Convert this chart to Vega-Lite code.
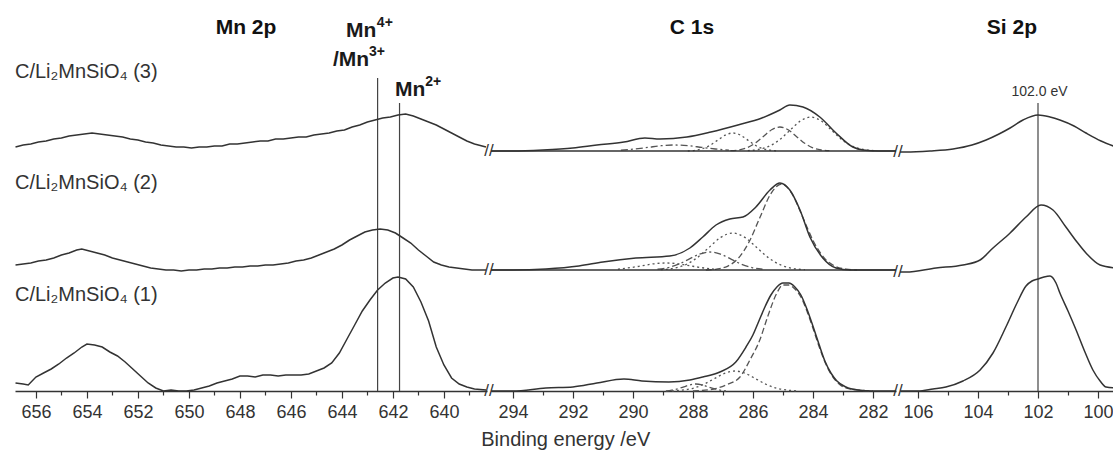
{
  "$schema": "https://vega.github.io/schema/vega-lite/v6.json",
  "padding": {"left": 12, "top": 0, "right": 0, "bottom": 0},
  "bounds": "flush",
  "spacing": 4,
  "title": {"text": "Binding energy /eV", "orient": "bottom", "anchor": "middle", "fontSize": 20, "fontWeight": "normal", "color": "#333", "font": "Liberation Sans", "offset": 9},
  "config": {
    "view": {"stroke": null},
    "font": "Liberation Sans",
    "axis": {"domainColor": "#333", "domainWidth": 1.5, "tickColor": "#333", "tickWidth": 1.2, "labelColor": "#333", "labelFontSize": 18, "labelFont": "Liberation Sans", "labelPadding": 5, "labelOverlap": false, "labelFlush": false, "grid": false, "title": null}
  },
  "datasets": {
    "mn": [
      {"s":3,"E":656.8,"I":244},{"s":3,"E":656.5,"I":246},{"s":3,"E":656.2,"I":247},{"s":3,"E":655.9,"I":249},{"s":3,"E":655.6,"I":250},{"s":3,"E":655.3,"I":252},{"s":3,"E":655.0,"I":253},{"s":3,"E":654.7,"I":255},{"s":3,"E":654.4,"I":256},{"s":3,"E":654.1,"I":257},{"s":3,"E":653.8,"I":258},{"s":3,"E":653.5,"I":257},{"s":3,"E":653.2,"I":256},{"s":3,"E":652.9,"I":255},{"s":3,"E":652.6,"I":254},{"s":3,"E":652.3,"I":252},{"s":3,"E":652.0,"I":251},{"s":3,"E":651.7,"I":249},{"s":3,"E":651.4,"I":248},{"s":3,"E":651.1,"I":246},{"s":3,"E":650.8,"I":245},{"s":3,"E":650.5,"I":244},{"s":3,"E":650.2,"I":244},{"s":3,"E":649.9,"I":243},{"s":3,"E":649.6,"I":244},{"s":3,"E":649.3,"I":244},{"s":3,"E":649.0,"I":245},{"s":3,"E":648.7,"I":245},{"s":3,"E":648.4,"I":247},{"s":3,"E":648.1,"I":247},{"s":3,"E":647.8,"I":248},{"s":3,"E":647.5,"I":249},{"s":3,"E":647.2,"I":250},{"s":3,"E":646.9,"I":250},{"s":3,"E":646.6,"I":252},{"s":3,"E":646.3,"I":252},{"s":3,"E":646.0,"I":253},{"s":3,"E":645.7,"I":254},{"s":3,"E":645.4,"I":254},{"s":3,"E":645.1,"I":256},{"s":3,"E":644.8,"I":257},{"s":3,"E":644.5,"I":258},{"s":3,"E":644.2,"I":260},{"s":3,"E":643.9,"I":261},{"s":3,"E":643.6,"I":264},{"s":3,"E":643.3,"I":266},{"s":3,"E":643.0,"I":269},{"s":3,"E":642.7,"I":271},{"s":3,"E":642.4,"I":273},{"s":3,"E":642.1,"I":274},{"s":3,"E":641.8,"I":276},{"s":3,"E":641.5,"I":277},{"s":3,"E":641.2,"I":275},{"s":3,"E":640.9,"I":272},{"s":3,"E":640.6,"I":269},{"s":3,"E":640.3,"I":266},{"s":3,"E":640.0,"I":262},{"s":3,"E":639.7,"I":258},{"s":3,"E":639.4,"I":254},{"s":3,"E":639.1,"I":250},{"s":3,"E":638.8,"I":247},{"s":3,"E":638.5,"I":245},{"s":3,"E":638.35,"I":244},
      {"s":2,"E":656.8,"I":126},{"s":2,"E":656.5,"I":127},{"s":2,"E":656.2,"I":128},{"s":2,"E":655.9,"I":130},{"s":2,"E":655.6,"I":131},{"s":2,"E":655.3,"I":133},{"s":2,"E":655.0,"I":136},{"s":2,"E":654.7,"I":138},{"s":2,"E":654.4,"I":141},{"s":2,"E":654.2,"I":142},{"s":2,"E":653.9,"I":140},{"s":2,"E":653.6,"I":138},{"s":2,"E":653.3,"I":136},{"s":2,"E":653.0,"I":133},{"s":2,"E":652.7,"I":131},{"s":2,"E":652.4,"I":129},{"s":2,"E":652.1,"I":127},{"s":2,"E":651.8,"I":125},{"s":2,"E":651.5,"I":123},{"s":2,"E":651.2,"I":122},{"s":2,"E":650.9,"I":121},{"s":2,"E":650.6,"I":121},{"s":2,"E":650.3,"I":120},{"s":2,"E":650.0,"I":121},{"s":2,"E":649.7,"I":121},{"s":2,"E":649.4,"I":122},{"s":2,"E":649.1,"I":122},{"s":2,"E":648.8,"I":123},{"s":2,"E":648.5,"I":123},{"s":2,"E":648.2,"I":124},{"s":2,"E":647.9,"I":124},{"s":2,"E":647.6,"I":125},{"s":2,"E":647.3,"I":125},{"s":2,"E":647.0,"I":126},{"s":2,"E":646.7,"I":126},{"s":2,"E":646.4,"I":127},{"s":2,"E":646.1,"I":128},{"s":2,"E":645.8,"I":130},{"s":2,"E":645.5,"I":131},{"s":2,"E":645.2,"I":133},{"s":2,"E":644.9,"I":136},{"s":2,"E":644.6,"I":139},{"s":2,"E":644.3,"I":142},{"s":2,"E":644.0,"I":146},{"s":2,"E":643.7,"I":151},{"s":2,"E":643.4,"I":155},{"s":2,"E":643.1,"I":159},{"s":2,"E":642.8,"I":161},{"s":2,"E":642.5,"I":162},{"s":2,"E":642.2,"I":161},{"s":2,"E":641.9,"I":158},{"s":2,"E":641.6,"I":153},{"s":2,"E":641.3,"I":148},{"s":2,"E":641.0,"I":141},{"s":2,"E":640.7,"I":135},{"s":2,"E":640.4,"I":129},{"s":2,"E":640.1,"I":126},{"s":2,"E":639.8,"I":124},{"s":2,"E":639.5,"I":123},{"s":2,"E":639.2,"I":122},{"s":2,"E":638.9,"I":121},{"s":2,"E":638.6,"I":121},{"s":2,"E":638.35,"I":121},
      {"s":1,"E":656.8,"I":8},{"s":1,"E":656.5,"I":7},{"s":1,"E":656.3,"I":6},{"s":1,"E":656.0,"I":14},{"s":1,"E":655.7,"I":18},{"s":1,"E":655.4,"I":22},{"s":1,"E":655.1,"I":27},{"s":1,"E":654.8,"I":33},{"s":1,"E":654.5,"I":38},{"s":1,"E":654.2,"I":44},{"s":1,"E":654.0,"I":47},{"s":1,"E":653.7,"I":46},{"s":1,"E":653.4,"I":44},{"s":1,"E":653.1,"I":39},{"s":1,"E":652.8,"I":35},{"s":1,"E":652.5,"I":29},{"s":1,"E":652.2,"I":22},{"s":1,"E":651.9,"I":15},{"s":1,"E":651.6,"I":8},{"s":1,"E":651.3,"I":3},{"s":1,"E":651.0,"I":0},{"s":1,"E":650.7,"I":1},{"s":1,"E":650.4,"I":0},{"s":1,"E":650.1,"I":0},{"s":1,"E":649.8,"I":1},{"s":1,"E":649.5,"I":3},{"s":1,"E":649.2,"I":5},{"s":1,"E":648.9,"I":8},{"s":1,"E":648.6,"I":10},{"s":1,"E":648.3,"I":12},{"s":1,"E":648.0,"I":15},{"s":1,"E":647.7,"I":15},{"s":1,"E":647.4,"I":14},{"s":1,"E":647.1,"I":16},{"s":1,"E":646.8,"I":16},{"s":1,"E":646.5,"I":15},{"s":1,"E":646.2,"I":16},{"s":1,"E":645.9,"I":16},{"s":1,"E":645.6,"I":16},{"s":1,"E":645.3,"I":17},{"s":1,"E":645.0,"I":20},{"s":1,"E":644.7,"I":23},{"s":1,"E":644.4,"I":28},{"s":1,"E":644.1,"I":38},{"s":1,"E":643.8,"I":52},{"s":1,"E":643.5,"I":66},{"s":1,"E":643.2,"I":80},{"s":1,"E":642.9,"I":91},{"s":1,"E":642.6,"I":101},{"s":1,"E":642.3,"I":108},{"s":1,"E":642.0,"I":113},{"s":1,"E":641.8,"I":114},{"s":1,"E":641.5,"I":112},{"s":1,"E":641.2,"I":104},{"s":1,"E":640.9,"I":89},{"s":1,"E":640.6,"I":70},{"s":1,"E":640.3,"I":44},{"s":1,"E":640.0,"I":26},{"s":1,"E":639.7,"I":13},{"s":1,"E":639.4,"I":7},{"s":1,"E":639.1,"I":4},{"s":1,"E":638.8,"I":2},{"s":1,"E":638.35,"I":1}
    ],
    "mnrules": [
      {"E":642.6,"I":0,"I2":313},{"E":641.74,"I":0,"I2":288}
    ],
    "mntext": [
      {"k":"sample","E":656.82,"I":319,"t":"C/Li₂MnSiO₄ (3)"},
      {"k":"sample","E":656.82,"I":208,"t":"C/Li₂MnSiO₄ (2)"},
      {"k":"sample","E":656.82,"I":96,"t":"C/Li₂MnSiO₄ (1)"},
      {"k":"title","E":647.76,"I":363,"t":"Mn 2p"},
      {"k":"ion","E":643.84,"I":360,"t":"Mn"},
      {"k":"sup","E":642.63,"I":368,"t":"4+"},
      {"k":"ion","E":644.35,"I":331,"t":"/Mn"},
      {"k":"sup","E":642.94,"I":339,"t":"3+"},
      {"k":"ion","E":641.92,"I":301,"t":"Mn"},
      {"k":"sup","E":640.73,"I":309,"t":"2+"}
    ],
    "c": [
      {"id":"m3","E":294.73,"I":240},{"id":"m3","E":294.0,"I":240},{"id":"m3","E":293.0,"I":241},{"id":"m3","E":292.0,"I":243},{"id":"m3","E":291.2,"I":246},{"id":"m3","E":290.3,"I":249},{"id":"m3","E":289.6,"I":253},{"id":"m3","E":289.1,"I":252},{"id":"m3","E":288.2,"I":254},{"id":"m3","E":287.4,"I":259},{"id":"m3","E":286.5,"I":266},{"id":"m3","E":285.7,"I":273},{"id":"m3","E":285.1,"I":281},{"id":"m3","E":284.77,"I":286},{"id":"m3","E":284.33,"I":284},{"id":"m3","E":283.77,"I":274},{"id":"m3","E":283.23,"I":258},{"id":"m3","E":282.67,"I":244},{"id":"m3","E":282.33,"I":241},{"id":"m3","E":281.8,"I":240},{"id":"m3","E":281.23,"I":240},
      {"id":"b3","E":294.73,"I":240},{"id":"b3","E":281.23,"I":240},
      {"id":"m2","E":294.73,"I":121},{"id":"m2","E":294.0,"I":121},{"id":"m2","E":292.9,"I":122},{"id":"m2","E":291.8,"I":125},{"id":"m2","E":291.0,"I":129},{"id":"m2","E":289.9,"I":133},{"id":"m2","E":288.77,"I":135},{"id":"m2","E":288.1,"I":143},{"id":"m2","E":287.67,"I":154},{"id":"m2","E":287.23,"I":166},{"id":"m2","E":286.77,"I":172},{"id":"m2","E":286.33,"I":174},{"id":"m2","E":285.9,"I":184},{"id":"m2","E":285.43,"I":201},{"id":"m2","E":285.1,"I":208},{"id":"m2","E":284.77,"I":201},{"id":"m2","E":284.43,"I":181},{"id":"m2","E":284.1,"I":154},{"id":"m2","E":283.67,"I":133},{"id":"m2","E":283.23,"I":123},{"id":"m2","E":282.77,"I":121},{"id":"m2","E":281.23,"I":121},
      {"id":"b2","E":294.73,"I":121},{"id":"b2","E":281.23,"I":121},
      {"id":"m1","E":294.73,"I":0},{"id":"m1","E":294.0,"I":0},{"id":"m1","E":292.9,"I":3},{"id":"m1","E":292.0,"I":4},{"id":"m1","E":291.2,"I":8},{"id":"m1","E":290.3,"I":12},{"id":"m1","E":289.7,"I":10},{"id":"m1","E":288.8,"I":9},{"id":"m1","E":288.1,"I":11},{"id":"m1","E":287.67,"I":14},{"id":"m1","E":287.1,"I":19},{"id":"m1","E":286.57,"I":29},{"id":"m1","E":286.23,"I":44},{"id":"m1","E":286.0,"I":56},{"id":"m1","E":285.8,"I":70},{"id":"m1","E":285.6,"I":84},{"id":"m1","E":285.4,"I":96},{"id":"m1","E":285.2,"I":104},{"id":"m1","E":285.0,"I":108},{"id":"m1","E":284.8,"I":108},{"id":"m1","E":284.6,"I":104},{"id":"m1","E":284.4,"I":96},{"id":"m1","E":284.2,"I":82},{"id":"m1","E":284.0,"I":65},{"id":"m1","E":283.8,"I":47},{"id":"m1","E":283.6,"I":30},{"id":"m1","E":283.4,"I":18},{"id":"m1","E":283.2,"I":10},{"id":"m1","E":282.9,"I":4},{"id":"m1","E":282.5,"I":1},{"id":"m1","E":282.0,"I":0},{"id":"m1","E":281.23,"I":0}
    ],
    "cfit": [
      {"id":"1a","st":"dash","E":282.0,"I":0},{"id":"1a","st":"dash","E":282.5,"I":1},{"id":"1a","st":"dash","E":282.9,"I":3},{"id":"1a","st":"dash","E":283.2,"I":9},{"id":"1a","st":"dash","E":283.4,"I":17},{"id":"1a","st":"dash","E":283.6,"I":29},{"id":"1a","st":"dash","E":283.8,"I":45},{"id":"1a","st":"dash","E":284.0,"I":63},{"id":"1a","st":"dash","E":284.2,"I":80},{"id":"1a","st":"dash","E":284.4,"I":94},{"id":"1a","st":"dash","E":284.6,"I":102},{"id":"1a","st":"dash","E":284.8,"I":106},{"id":"1a","st":"dash","E":285.0,"I":106},{"id":"1a","st":"dash","E":285.2,"I":98},{"id":"1a","st":"dash","E":285.5,"I":75},{"id":"1a","st":"dash","E":285.77,"I":51},{"id":"1a","st":"dash","E":286.1,"I":31},{"id":"1a","st":"dash","E":286.43,"I":14},{"id":"1a","st":"dash","E":286.9,"I":6},{"id":"1a","st":"dash","E":287.3,"I":2},{"id":"1a","st":"dash","E":288.0,"I":0},
      {"id":"1b","st":"dot","E":284.5,"I":0},{"id":"1b","st":"dot","E":284.85,"I":0.9},{"id":"1b","st":"dot","E":285.2,"I":2.7},{"id":"1b","st":"dot","E":285.55,"I":6.5},{"id":"1b","st":"dot","E":285.9,"I":12.1},{"id":"1b","st":"dot","E":286.25,"I":17.6},{"id":"1b","st":"dot","E":286.6,"I":20},{"id":"1b","st":"dot","E":286.95,"I":17.6},{"id":"1b","st":"dot","E":287.3,"I":12.1},{"id":"1b","st":"dot","E":287.65,"I":6.5},{"id":"1b","st":"dot","E":288.0,"I":2.7},{"id":"1b","st":"dot","E":288.35,"I":0.9},{"id":"1b","st":"dot","E":288.7,"I":0},
      {"id":"1c","st":"dashdot","E":286.9,"I":0},{"id":"1c","st":"dashdot","E":287.1,"I":0.9},{"id":"1c","st":"dashdot","E":287.3,"I":2.3},{"id":"1c","st":"dashdot","E":287.5,"I":4.2},{"id":"1c","st":"dashdot","E":287.7,"I":6.2},{"id":"1c","st":"dashdot","E":287.9,"I":7},{"id":"1c","st":"dashdot","E":288.1,"I":6.2},{"id":"1c","st":"dashdot","E":288.3,"I":4.2},{"id":"1c","st":"dashdot","E":288.5,"I":2.3},{"id":"1c","st":"dashdot","E":288.7,"I":0.9},{"id":"1c","st":"dashdot","E":288.9,"I":0},
      {"id":"2a","st":"dash","E":282.53,"I":121},{"id":"2a","st":"dash","E":282.89,"I":121.9},{"id":"2a","st":"dash","E":283.25,"I":124.7},{"id":"2a","st":"dash","E":283.61,"I":132.6},{"id":"2a","st":"dash","E":283.97,"I":149},{"id":"2a","st":"dash","E":284.33,"I":173.2},{"id":"2a","st":"dash","E":284.69,"I":196.9},{"id":"2a","st":"dash","E":285.05,"I":207},{"id":"2a","st":"dash","E":285.41,"I":196.9},{"id":"2a","st":"dash","E":285.77,"I":173.2},{"id":"2a","st":"dash","E":286.13,"I":149},{"id":"2a","st":"dash","E":286.49,"I":132.6},{"id":"2a","st":"dash","E":286.85,"I":124.7},{"id":"2a","st":"dash","E":287.21,"I":121.9},{"id":"2a","st":"dash","E":287.57,"I":121},
      {"id":"2b","st":"dot","E":284.27,"I":121.4},{"id":"2b","st":"dot","E":284.67,"I":122.6},{"id":"2b","st":"dot","E":285.07,"I":126},{"id":"2b","st":"dot","E":285.47,"I":133},{"id":"2b","st":"dot","E":285.87,"I":143.4},{"id":"2b","st":"dot","E":286.27,"I":153.6},{"id":"2b","st":"dot","E":286.67,"I":158},{"id":"2b","st":"dot","E":287.07,"I":153.6},{"id":"2b","st":"dot","E":287.47,"I":143.4},{"id":"2b","st":"dot","E":287.87,"I":133},{"id":"2b","st":"dot","E":288.27,"I":126},{"id":"2b","st":"dot","E":288.67,"I":122.6},{"id":"2b","st":"dot","E":289.07,"I":121.4},
      {"id":"2c","st":"dashdot","E":285.68,"I":121.8},{"id":"2c","st":"dashdot","E":286.03,"I":123.4},{"id":"2c","st":"dashdot","E":286.38,"I":126.8},{"id":"2c","st":"dashdot","E":286.73,"I":131.9},{"id":"2c","st":"dashdot","E":287.08,"I":136.9},{"id":"2c","st":"dashdot","E":287.43,"I":139},{"id":"2c","st":"dashdot","E":287.78,"I":136.9},{"id":"2c","st":"dashdot","E":288.13,"I":131.9},{"id":"2c","st":"dashdot","E":288.48,"I":126.8},{"id":"2c","st":"dashdot","E":288.83,"I":123.4},{"id":"2c","st":"dashdot","E":289.18,"I":121.8},
      {"id":"2d","st":"dot","E":287.3,"I":121.9},{"id":"2d","st":"dot","E":287.7,"I":123.3},{"id":"2d","st":"dot","E":288.1,"I":125.2},{"id":"2d","st":"dot","E":288.5,"I":127.2},{"id":"2d","st":"dot","E":288.9,"I":128},{"id":"2d","st":"dot","E":289.3,"I":127.2},{"id":"2d","st":"dot","E":289.7,"I":125.2},{"id":"2d","st":"dot","E":290.1,"I":123.3},{"id":"2d","st":"dot","E":290.5,"I":121.9},
      {"id":"3a","st":"dash","E":283.45,"I":240.3},{"id":"3a","st":"dash","E":283.725,"I":241},{"id":"3a","st":"dash","E":284.0,"I":243.2},{"id":"3a","st":"dash","E":284.275,"I":247.8},{"id":"3a","st":"dash","E":284.55,"I":254.6},{"id":"3a","st":"dash","E":284.825,"I":261.2},{"id":"3a","st":"dash","E":285.1,"I":264},{"id":"3a","st":"dash","E":285.375,"I":261.2},{"id":"3a","st":"dash","E":285.65,"I":254.6},{"id":"3a","st":"dash","E":285.925,"I":247.8},{"id":"3a","st":"dash","E":286.2,"I":243.2},{"id":"3a","st":"dash","E":286.475,"I":241},{"id":"3a","st":"dash","E":286.75,"I":240.3},
      {"id":"3b","st":"dot","E":285.17,"I":240},{"id":"3b","st":"dot","E":285.42,"I":240.8},{"id":"3b","st":"dot","E":285.67,"I":242.4},{"id":"3b","st":"dot","E":285.92,"I":245.8},{"id":"3b","st":"dot","E":286.17,"I":250.9},{"id":"3b","st":"dot","E":286.42,"I":255.9},{"id":"3b","st":"dot","E":286.67,"I":258},{"id":"3b","st":"dot","E":286.92,"I":255.9},{"id":"3b","st":"dot","E":287.17,"I":250.9},{"id":"3b","st":"dot","E":287.42,"I":245.8},{"id":"3b","st":"dot","E":287.67,"I":242.4},{"id":"3b","st":"dot","E":287.92,"I":240.8},{"id":"3b","st":"dot","E":288.17,"I":240},
      {"id":"3c","st":"dot","E":281.97,"I":240.4},{"id":"3c","st":"dot","E":282.32,"I":241.5},{"id":"3c","st":"dot","E":282.67,"I":244.6},{"id":"3c","st":"dot","E":283.02,"I":251},{"id":"3c","st":"dot","E":283.37,"I":260.6},{"id":"3c","st":"dot","E":283.72,"I":270},{"id":"3c","st":"dot","E":284.07,"I":274},{"id":"3c","st":"dot","E":284.42,"I":270},{"id":"3c","st":"dot","E":284.77,"I":260.6},{"id":"3c","st":"dot","E":285.12,"I":251},{"id":"3c","st":"dot","E":285.47,"I":244.6},{"id":"3c","st":"dot","E":285.82,"I":241.5},{"id":"3c","st":"dot","E":286.17,"I":240.4},
      {"id":"3d","st":"dashdot","E":286.8,"I":240.8},{"id":"3d","st":"dashdot","E":287.25,"I":242},{"id":"3d","st":"dashdot","E":287.7,"I":243.6},{"id":"3d","st":"dashdot","E":288.15,"I":245.3},{"id":"3d","st":"dashdot","E":288.6,"I":246},{"id":"3d","st":"dashdot","E":289.05,"I":245.3},{"id":"3d","st":"dashdot","E":289.5,"I":243.6},{"id":"3d","st":"dashdot","E":289.95,"I":242},{"id":"3d","st":"dashdot","E":290.4,"I":240.8}
    ],
    "ctext": [
      {"k":"title","E":288.03,"I":363,"t":"C 1s"},
      {"k":"brk","E":294.8,"I":240,"t":"//"},
      {"k":"brk","E":294.8,"I":121,"t":"//"},
      {"k":"brk","E":294.8,"I":0,"t":"//"}
    ],
    "si": [
      {"s":3,"E":106.6,"I":239},{"s":3,"E":106.4,"I":239},{"s":3,"E":105.6,"I":240},{"s":3,"E":104.83,"I":242},{"s":3,"E":104.2,"I":246},{"s":3,"E":103.73,"I":251},{"s":3,"E":103.3,"I":257},{"s":3,"E":102.93,"I":263},{"s":3,"E":102.5,"I":271},{"s":3,"E":102.0,"I":276},{"s":3,"E":101.6,"I":274},{"s":3,"E":101.27,"I":271},{"s":3,"E":100.8,"I":265},{"s":3,"E":100.4,"I":258},{"s":3,"E":99.9,"I":250},{"s":3,"E":99.4,"I":244},
      {"s":2,"E":106.6,"I":119},{"s":2,"E":106.4,"I":119},{"s":2,"E":105.4,"I":123},{"s":2,"E":104.5,"I":126},{"s":2,"E":103.93,"I":131},{"s":2,"E":103.5,"I":143},{"s":2,"E":102.93,"I":158},{"s":2,"E":102.4,"I":174},{"s":2,"E":101.9,"I":186},{"s":2,"E":101.5,"I":181},{"s":2,"E":101.07,"I":164},{"s":2,"E":100.7,"I":149},{"s":2,"E":100.4,"I":138},{"s":2,"E":99.93,"I":126},{"s":2,"E":99.4,"I":123},
      {"s":1,"E":106.6,"I":0},{"s":1,"E":106.0,"I":0},{"s":1,"E":105.5,"I":2},{"s":1,"E":105.07,"I":4},{"s":1,"E":104.5,"I":10},{"s":1,"E":103.93,"I":21},{"s":1,"E":103.5,"I":38},{"s":1,"E":103.07,"I":64},{"s":1,"E":102.7,"I":88},{"s":1,"E":102.4,"I":105},{"s":1,"E":102.2,"I":110},{"s":1,"E":102.0,"I":112},{"s":1,"E":101.8,"I":114},{"s":1,"E":101.6,"I":115},{"s":1,"E":101.4,"I":108},{"s":1,"E":101.27,"I":98},{"s":1,"E":101.0,"I":80},{"s":1,"E":100.73,"I":61},{"s":1,"E":100.45,"I":40},{"s":1,"E":100.17,"I":21},{"s":1,"E":99.93,"I":10},{"s":1,"E":99.73,"I":4},{"s":1,"E":99.4,"I":3}
    ],
    "sirules": [
      {"E":102.0,"I":0,"I2":288}
    ],
    "sitext": [
      {"k":"title","E":102.87,"I":363,"t":"Si 2p"},
      {"k":"ev","E":101.95,"I":299,"t":"102.0 eV"},
      {"k":"brk","E":106.67,"I":239,"t":"//"},
      {"k":"brk","E":106.67,"I":119,"t":"//"},
      {"k":"brk","E":106.67,"I":0,"t":"//"}
    ]
  },
  "hconcat": [
    {
      "width": 472, "height": 391,
      "encoding": {
        "x": {"field": "E", "type": "quantitative", "scale": {"domain": [638.31, 656.82], "reverse": true, "nice": false, "zero": false},
              "axis": {"values": [639,640,641,642,643,644,645,646,647,648,649,650,651,652,653,654,655,656], "labelExpr": "datum.value % 2 === 0 ? datum.label : ''", "tickSize": {"condition": {"test": "datum.value % 2 !== 0", "value": 4}, "value": 7}}},
        "y": {"field": "I", "type": "quantitative", "scale": {"domain": [0, 391], "nice": false, "zero": false}, "axis": null}
      },
      "layer": [
        {"data": {"name": "mnrules"}, "mark": {"type": "rule", "color": "#444", "strokeWidth": 1.2}, "encoding": {"y2": {"field": "I2"}}},
        {"data": {"name": "mn"}, "mark": {"type": "line", "color": "#333", "strokeWidth": 1.5}, "encoding": {"detail": {"field": "s"}}},
        {"data": {"name": "mntext"}, "transform": [{"filter": "datum.k === 'sample'"}], "mark": {"type": "text", "align": "left", "baseline": "middle", "fontSize": 20, "color": "#333"}, "encoding": {"text": {"field": "t"}}},
        {"data": {"name": "mntext"}, "transform": [{"filter": "datum.k === 'title'"}], "mark": {"type": "text", "align": "center", "baseline": "middle", "fontSize": 21, "fontWeight": "bold", "color": "#111"}, "encoding": {"text": {"field": "t"}}},
        {"data": {"name": "mntext"}, "transform": [{"filter": "datum.k === 'ion'"}], "mark": {"type": "text", "align": "left", "baseline": "middle", "fontSize": 21, "fontWeight": "bold", "color": "#1a1a1a"}, "encoding": {"text": {"field": "t"}}},
        {"data": {"name": "mntext"}, "transform": [{"filter": "datum.k === 'sup'"}], "mark": {"type": "text", "align": "left", "baseline": "middle", "fontSize": 14, "fontWeight": "bold", "color": "#1a1a1a"}, "encoding": {"text": {"field": "t"}}}
      ]
    },
    {
      "width": 405, "height": 391,
      "encoding": {
        "x": {"field": "E", "type": "quantitative", "scale": {"domain": [281.23, 294.73], "reverse": true, "nice": false, "zero": false},
              "axis": {"values": [282,283,284,285,286,287,288,289,290,291,292,293,294], "labelExpr": "datum.value % 2 === 0 ? datum.label : ''", "tickSize": {"condition": {"test": "datum.value % 2 !== 0", "value": 4}, "value": 7}}},
        "y": {"field": "I", "type": "quantitative", "scale": {"domain": [0, 391], "nice": false, "zero": false}, "axis": null}
      },
      "layer": [
        {"data": {"name": "cfit"}, "mark": {"type": "line", "color": "#555", "strokeWidth": 1.3, "interpolate": "monotone"},
         "encoding": {"detail": {"field": "id"}, "strokeDash": {"field": "st", "type": "nominal", "scale": {"domain": ["dash", "dot", "dashdot"], "range": [[6, 3], [2, 3], [7, 3, 2, 3]]}, "legend": null}}},
        {"data": {"name": "c"}, "mark": {"type": "line", "color": "#333", "strokeWidth": 1.5, "interpolate": "monotone"}, "encoding": {"detail": {"field": "id"}}},
        {"data": {"name": "ctext"}, "transform": [{"filter": "datum.k === 'title'"}], "mark": {"type": "text", "align": "center", "baseline": "middle", "fontSize": 21, "fontWeight": "bold", "color": "#111"}, "encoding": {"text": {"field": "t"}}},
        {"data": {"name": "ctext"}, "transform": [{"filter": "datum.k === 'brk'"}], "mark": {"type": "text", "align": "center", "baseline": "middle", "fontSize": 17, "color": "#333"}, "encoding": {"text": {"field": "t"}}}
      ]
    },
    {
      "width": 216, "height": 391,
      "encoding": {
        "x": {"field": "E", "type": "quantitative", "scale": {"domain": [99.4, 106.6], "reverse": true, "nice": false, "zero": false},
              "axis": {"values": [100,101,102,103,104,105,106], "labelExpr": "datum.value % 2 === 0 ? datum.label : ''", "tickSize": {"condition": {"test": "datum.value % 2 !== 0", "value": 4}, "value": 7}}},
        "y": {"field": "I", "type": "quantitative", "scale": {"domain": [0, 391], "nice": false, "zero": false}, "axis": null}
      },
      "layer": [
        {"data": {"name": "sirules"}, "mark": {"type": "rule", "color": "#444", "strokeWidth": 1.2}, "encoding": {"y2": {"field": "I2"}}},
        {"data": {"name": "si"}, "mark": {"type": "line", "color": "#333", "strokeWidth": 1.5, "interpolate": "monotone"}, "encoding": {"detail": {"field": "s"}}},
        {"data": {"name": "sitext"}, "transform": [{"filter": "datum.k === 'title'"}], "mark": {"type": "text", "align": "center", "baseline": "middle", "fontSize": 21, "fontWeight": "bold", "color": "#111"}, "encoding": {"text": {"field": "t"}}},
        {"data": {"name": "sitext"}, "transform": [{"filter": "datum.k === 'ev'"}], "mark": {"type": "text", "align": "center", "baseline": "middle", "fontSize": 14, "color": "#333"}, "encoding": {"text": {"field": "t"}}},
        {"data": {"name": "sitext"}, "transform": [{"filter": "datum.k === 'brk'"}], "mark": {"type": "text", "align": "center", "baseline": "middle", "fontSize": 17, "color": "#333"}, "encoding": {"text": {"field": "t"}}}
      ]
    }
  ]
}
